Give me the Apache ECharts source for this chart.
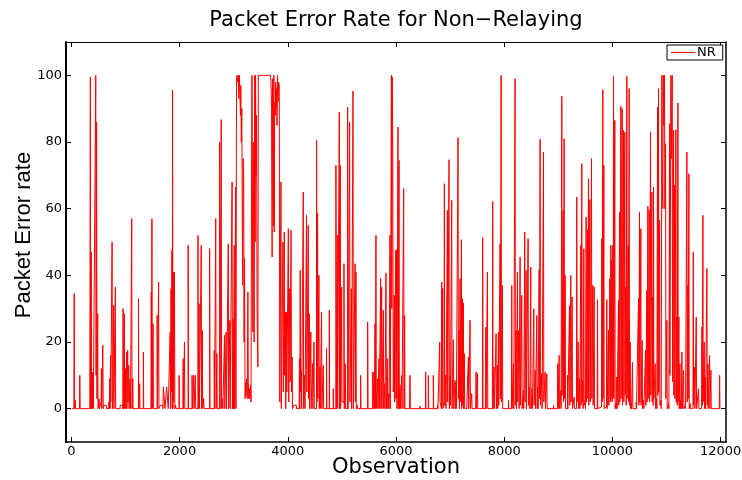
<!DOCTYPE html>
<html><head><meta charset="utf-8">
<script src="https://cdn.jsdelivr.net/npm/echarts@6/dist/echarts.min.js"></script>
<style>html,body{margin:0;padding:0;background:#fff}#c{width:742px;height:480px}</style>
</head><body><div id="c"></div>
<script>
const titleText = 'Packet Error Rate for Non\u2212Relaying';
const seriesName = 'NR';
const xTicks = [0, 2000, 4000, 6000, 8000, 10000, 12000];
const yTicks = [0, 20, 40, 60, 80, 100];

// [observation, packet error rate]
const segA = [[0,0],[45,0],[52,34.5],[58,0],[70,2.5],[78,0],[150,0],[155,10],[162,0],
[340,0],[350,99.5],[356,0],[366,47],[372,0],[385,11],[392,0],[398,11],[405,0],
[440,0],[450,100],[456,10],[466,86],[472,3],[486,28.5],[492,0],[510,3],[518,0],
[548,2],[555,12],[562,0],[580,19],[588,0],[600,1],[650,0],
[690,2],[700,0],[710,9],[716,0],[722,16],[728,2],[752,50],[758,0],[768,6],[780,31],[786,0],[812,36.5],[818,0],
[850,0],[900,1],[950,0],
[955,30],[962,0],[978,28.5],[984,0],[1000,12],[1006,0],[1020,17],[1026,0],[1040,17.5],[1046,2],[1060,13],[1066,0],[1085,9],[1092,0],
[1115,57],[1120,0],[1135,9],[1140,0],
[1240,33],[1246,0],[1262,7.5],[1268,0],
[1330,17],[1336,0],
[1470,0],[1476,35],[1482,0],[1488,57],[1494,0],[1510,25.5],[1516,0],
[1585,28],[1590,0],[1612,38],[1618,0],[1640,1],
[1690,0],[1700,6.5],[1720,6.5],[1730,0],[1760,6.5],[1780,6],[1790,0],
[1820,0],[1826,23],[1832,0],[1842,36],[1848,5],[1858,47.5],[1864,0],[1870,95.5],[1876,0],[1885,41],[1890,2],[1905,41],[1912,0],[1925,1],[1935,0],
[1990,10],[1996,0],
[2060,0],[2066,15],[2072,0],[2090,20],[2096,0],
[2158,49],[2164,0],
[2230,10],[2236,0],[2260,10],[2266,0],[2290,10],[2296,0],
[2340,52],[2346,0],[2360,31.5],[2366,0],[2400,49],[2406,0],[2420,23.5],[2426,0],[2445,3],[2452,0],
[2555,48],[2561,0],
[2640,17.5],[2646,0],[2668,57],[2674,0],[2690,16.5],[2696,0],
[2740,80],[2746,0],[2770,86.7],[2776,0],[2790,3],[2800,0],
[2830,22],[2836,0],[2860,23],[2866,0],[2900,49.5],[2906,0],[2928,26.5],[2934,0],[2970,68],[2976,0],[2990,27],[2996,0],
[3010,49],[3016,0],[3035,66.5],[3041,0]];

const segB = [[3045,40],[3052,98],[3060,100],[3075,98],[3085,100],[3095,93],[3105,100],[3115,94],[3125,88],[3132,97],[3140,80],[3150,90],[3158,60],[3165,37],[3175,75],[3185,68],[3192,20],[3200,45],[3210,3],[3220,8],[3230,4],[3240,9],[3250,3],[3262,35],[3270,8],[3280,3],[3290,6],[3300,3],[3310,7],[3320,2],[3330,70],[3338,100],[3346,60],[3355,23],[3362,80],[3370,57],[3378,20],[3388,100],[3396,50],[3404,100],[3412,70],[3422,88],[3432,30],[3447,12.5],[3455,100],[3465,100],[3550,100],[3680,100],[3690,98],[3700,90],[3710,45.5],[3718,99],[3726,85],[3734,55],[3742,100],[3750,53],[3758,92],[3768,88],[3776,98],[3784,90],[3792,96],[3800,85],[3810,100],[3820,92],[3830,98],[3842,97],[3852,2],[3862,30],[3873,68],[3880,0]];

const segC = [[3891,0],[3910,50],[3918,5],[3935,53],[3942,10],[3955,29],[3962,0],[3975,29],[3982,5],[4010,54],[4018,2],[4035,36],[4042,8],[4060,53.5],[4068,5],[4080,15.5],[4088,0],[4110,1],[4160,0],[4210,0],[4215,15],[4222,0],[4230,41.5],[4236,5],[4250,11.5],[4256,0],[4286,65],[4292,0],[4310,10],[4318,0],[4346,58],[4352,5],[4378,55],[4384,3],[4396,28.5],[4402,0],[4426,23],[4432,0],[4458,13.5],[4464,0],[4484,20],[4490,0],[4532,80.5],[4538,2],[4550,58.7],[4556,3],[4575,40],[4582,0],[4594,12.5],[4600,0],[4624,29],[4630,0],[4655,13],[4662,0],[4716,18],[4722,0],[4767,29.5],[4773,0],[4840,6],[4846,0],[4890,73],[4896,0],[4915,52],[4921,0],[4952,89],[4958,0],[4970,73],[4976,0],[4995,36.5],[5001,2],[5038,43.5],[5044,0],[5063,13.5],[5069,0],[5106,90.5],[5112,0],[5143,86],[5149,2],[5174,36],[5180,0],[5205,95.3],[5211,0],[5243,43.5],[5249,2],[5260,41],[5266,0],[5285,1],[5290,0],[5346,10],[5352,0],[5476,26],[5482,0],[5570,11],[5576,0],[5595,11],[5601,0],[5612,25.5],[5618,0],[5630,52],[5636,0],[5660,9],[5666,0],[5685,15],[5691,0],[5716,39],[5722,0],[5735,36.5],[5741,0],[5766,29.5],[5772,0],[5790,7.5],[5796,0],[5815,40.7],[5821,0],[5840,15],[5846,0],[5865,4.5],[5871,0],
[5889,52],[5895,0],[5915,100],[5922,30],[5930,99.5],[5940,78.5],[5950,5],[5969,34],[5975,2],[5994,47.5],[6000,3],[6012,47.7],[6018,0],[6037,84.5],[6043,0],[6056,74.5],[6062,0],[6074,7],[6080,0],[6105,10],[6111,0],[6142,66],[6148,0],[6160,28],[6166,0]];

const segD = [[6250,0],[6259,10],[6265,0],[6440,0],[6444,0.8],[6450,0],[6545,0],[6549,11],[6555,0],[6598,10],[6604,0],[6690,10],[6696,0],[6765,1],[6775,0],[6800,0],[6808,20],[6814,2]];

const segE = [[6826,2],[6840,0],[6845,38],[6850,1],[6863,36],[6868,0],[6888,2],[6894,67.5],[6900,1],[6919,10],[6925,0],[6950,59.5],[6956,2],[6980,74.7],[6986,0],[6999,10],[7005,1],[7030,62.5],[7036,0],[7061,20.7],[7067,0],[7091,8.5],[7097,0],[7110,8],[7116,0],[7147,81.3],[7153,3],[7166,23.5],[7172,0],[7184,39],[7190,2],[7209,50.7],[7215,0],[7227,33],[7233,1],[7246,31.7],[7252,0],[7264,16.5],[7270,0],[7307,0.5],[7320,0],[7338,15.5],[7344,0],[7369,26.5],[7375,0],[7400,4.5],[7406,0],[7474,0],[7480,11],[7486,0],[7505,10.5],[7511,0],[7597,0],[7603,51.3],[7609,0],[7659,24.5],[7665,0],[7690,41],[7696,0],[7782,0],[7788,62.2],[7794,0],[7813,12.5],[7819,0],[7850,22.5],[7856,0],[7875,13],[7881,0],[7893,23],[7899,1],[7924,49.5],[7930,3],[7943,100],[7949,2],[7967,37],[7973,0],[8078,2.5],[8084,0],[8134,0],[8140,37],[8146,0],[8171,13.5],[8177,0],[8201,99],[8207,1],[8220,23.5],[8226,0],[8245,41],[8251,2],[8269,23.5],[8275,0],[8294,45.5],[8300,1],[8325,34],[8331,0],[8356,5.5],[8362,0],[8380,53],[8386,2],[8405,41.5],[8411,0],[8442,51],[8448,1],[8467,6.5],[8473,0],[8491,42.5],[8497,0],[8516,6],[8522,0],[8547,30],[8553,1],[8572,11.5],[8578,0],[8603,28],[8609,0],[8621,6.5],[8627,0],[8646,41.7],[8652,3],[8664,80.8],[8670,1],[8695,10.5],[8701,0],[8726,77],[8732,2],[8757,11],[8763,0],[8788,10.5],[8794,0],[8911,1],[8920,0],[8985,0],[8991,13.5],[8997,0],[9016,16],[9022,0],[9046,5.5],[9052,0],[9065,93.7],[9071,4],[9090,59.5],[9096,2],[9108,81],[9114,3],[9127,40],[9133,0],[9170,10],[9176,0],[9207,31],[9213,1],[9231,40],[9237,2],[9256,33.5],[9262,0],[9293,3.5],[9299,0],[9336,0],[9342,63.5],[9348,2],[9367,20],[9373,0],[9392,9],[9398,0],[9417,49],[9423,1]];

const segF = [[9435,73.5],[9441,2],[9453,8.5],[9459,0],[9472,48],[9478,1],[9497,2.5],[9503,0],[9515,57.5],[9521,2],[9540,53.7],[9546,3],[9558,69],[9564,1],[9583,62.7],[9589,2],[9614,75],[9620,3],[9638,37],[9644,1],[9663,36.5],[9669,0],[9694,0.5],[9700,0],[9719,0],[9725,32.7],[9731,0],[9749,0.5],[9799,0],[9805,51],[9811,2],[9823,95.7],[9829,3],[9842,73],[9848,0],[9867,0.5],[9891,0],[9897,32.7],[9903,0],[9928,23.5],[9934,1],[9953,39],[9959,2],[9971,49],[9977,3],[9990,44.5],[9996,2],[10008,49],[10014,4],[10021,99.7],[10027,3],[10045,86.5],[10051,0],[10064,1.5],[10070,0],[10082,9.5],[10088,0],[10113,32.5],[10119,1],[10132,59],[10138,2],[10156,90.7],[10162,3],[10181,90],[10187,1],[10206,83.5],[10212,2],[10230,83],[10236,4],[10249,36.5],[10255,1],[10267,99.7],[10273,3],[10292,49],[10298,2],[10310,96],[10316,1],[10329,20],[10335,0],[10348,1.5],[10354,0],[10372,14],[10378,0],[10440,2],[10446,0],[10477,0],[10483,33],[10489,1],[10501,59],[10507,2],[10526,54],[10532,1],[10551,20.5],[10557,0],[10576,2.5],[10582,0],[10607,0],[10613,17.5],[10619,1],[10637,35.5],[10643,2],[10656,60.7],[10662,3],[10681,59.5],[10687,2],[10705,83],[10711,4],[10730,65],[10736,2],[10748,33.5],[10754,1],[10761,66.5],[10767,3],[10792,13.5],[10798,0],[10816,3],[10822,0],[10835,90.5],[10841,4],[10853,96],[10859,5],[10872,56.5],[10878,1],[10896,2.5],[10902,0],[10915,100],[10921,70],[10933,60],[10940,100],[10946,100],[10952,85],[10964,100],[10970,60],[10983,79.5],[10989,3],[11007,26.5],[11013,0],[11038,1.5],[11044,0],[11057,85.5],[11063,10],[11082,100],[11088,75],[11106,100],[11112,8],[11131,83.5],[11137,4],[11149,67],[11155,3],[11174,83.7],[11180,2],[11192,27.5],[11198,1],[11211,91.7],[11217,2],[11229,27.5],[11235,0],[11248,13.5],[11254,0],[11266,2.5],[11272,0],[11285,17],[11291,0],[11316,11.5],[11322,0],[11347,1],[11353,0],[11371,0],[11377,77],[11383,2],[11396,37],[11402,3],[11414,70.5],[11420,0],[11439,1.5],[11445,0],[11489,0],[11495,47],[11501,1],[11519,12.5],[11525,0],[11550,27.5],[11556,0],[11575,0.5],[11581,0],[11593,6],[11599,0],[11649,0],[11655,24.5],[11661,1],[11673,58],[11679,2],[11698,20],[11704,0],[11717,9.5],[11723,0],[11741,0],[11747,42],[11753,1],[11766,13.5],[11772,0],[11797,16],[11803,0],[11821,11.5],[11827,0],[11852,0],[11976,0],[11982,10],[11988,0],[12000,0]];

const allData = [].concat(segA, segB, segC, segD, segE, segF);

const tickFont = { fontFamily: 'DejaVu Sans', fontSize: 13, color: '#000', formatter: function (v) { return String(v); } };

const chart = echarts.init(document.getElementById('c'), null, { renderer: 'canvas' });
chart.setOption({
  animation: false,
  backgroundColor: '#fff',
  title: {
    text: titleText, left: 396, textAlign: 'center', top: 10, padding: 0,
    textStyle: { fontFamily: 'DejaVu Sans', fontSize: 21, fontWeight: 'normal', color: '#000' }
  },
  legend: {
    data: [seriesName], left: 667, top: 45, padding: [1, 7, 1, 4],
    itemWidth: 24, itemHeight: 1, icon: 'rect', itemGap: 0,
    borderColor: '#000', borderWidth: 1, backgroundColor: '#fff',
    textStyle: { fontFamily: 'DejaVu Sans', fontSize: 13, color: '#000', padding: [0, 0, 0, -3] }
  },
  grid: { left: 66, top: 42, width: 660, height: 400, containLabel: false, outerBoundsMode: 'none' },
  xAxis: [{
    type: 'value', min: -100, max: 12100, position: 'bottom',
    axisLine: { show: true, onZero: false, lineStyle: { color: '#000', width: 1.5 } },
    axisTick: { show: true, inside: true, length: 5, customValues: xTicks, lineStyle: { color: '#000' } },
    axisLabel: Object.assign({ customValues: xTicks, margin: 3 }, tickFont),
    splitLine: { show: false },
    name: 'Observation', nameLocation: 'middle', nameGap: 15, nameMoveOverlap: false,
    nameTextStyle: { fontFamily: 'DejaVu Sans', fontSize: 21, color: '#000' }
  }, {
    type: 'value', min: -100, max: 12100, position: 'top',
    axisLine: { show: true, onZero: false, lineStyle: { color: '#000', width: 1 } },
    axisTick: { show: true, inside: true, length: 5, customValues: xTicks, lineStyle: { color: '#000' } },
    axisLabel: { show: false }, splitLine: { show: false }
  }],
  yAxis: [{
    type: 'value', min: -10, max: 110, position: 'left',
    axisLine: { show: true, onZero: false, lineStyle: { color: '#000', width: 2 } },
    axisTick: { show: true, inside: true, length: 5, customValues: yTicks, lineStyle: { color: '#000' } },
    axisLabel: Object.assign({ customValues: yTicks, margin: 4 }, tickFont),
    splitLine: { show: false },
    name: 'Packet Error rate', nameLocation: 'middle', nameGap: 31, nameRotate: 90, nameMoveOverlap: false,
    nameTextStyle: { fontFamily: 'Liberation Sans', fontSize: 22, color: '#000', padding: [0, 0, 0, 14] }
  }, {
    type: 'value', min: -10, max: 110, position: 'right',
    axisLine: { show: true, onZero: false, lineStyle: { color: '#000', width: 1.5 } },
    axisTick: { show: true, inside: true, length: 5, customValues: yTicks, lineStyle: { color: '#000' } },
    axisLabel: { show: false }, splitLine: { show: false }
  }],
  series: [{
    type: 'line', name: seriesName, data: allData, xAxisIndex: 0, yAxisIndex: 0,
    step: 'end', showSymbol: false, symbol: 'none',
    lineStyle: { color: '#ff0000', width: 1 }, itemStyle: { color: '#ff0000' }
  }]
});
</script>
</body></html>
